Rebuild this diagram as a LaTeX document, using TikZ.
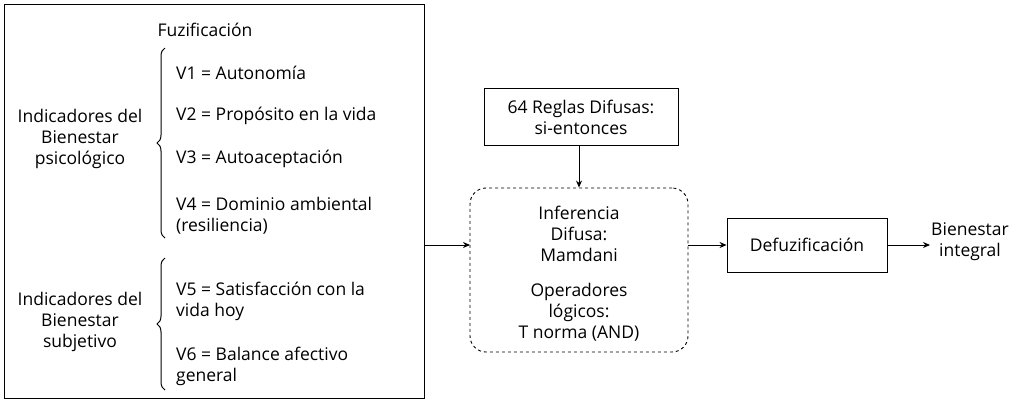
\documentclass[tikz,border=0pt]{standalone}
\usepackage{fontspec}
\setmainfont{Open Sans}
\usetikzlibrary{decorations.pathreplacing,arrows.meta}
\begin{document}
\begin{tikzpicture}[x=1pt,y=-1pt,
  every node/.style={font=\fontsize{17.5}{21}\selectfont,inner sep=0pt},
  box/.style={draw,line width=0.9pt},
  arr/.style={-{Stealth[length=7pt,width=6pt]},line width=0.9pt},
  br/.style={decorate,decoration={brace,amplitude=8pt},line width=1pt}]
\useasboundingbox (0,0) rectangle (1024,402);
\node[box,minimum width=420,minimum height=394] (L) at (214,201) {};
\node (fz) at (205,30) {Fuzificación};
\draw[br] (165,238) -- (165,48) coordinate (b1);
\draw[br] (165,390) -- (165,258) coordinate (b2);
\node[align=center] (ip) at (80,139) {Indicadores del\\Bienestar\\psicológico};
\node[align=center] (is) at (80,322) {Indicadores del\\Bienestar\\subjetivo};
\node[anchor=west] (v1) at (176,73) {V1 = Autonomía};
\node[anchor=west] (v2) at (176,116) {V2 = Propósito en la vida};
\node[anchor=west] (v3) at (176,159) {V3 = Autoaceptación};
\node[anchor=west,align=left] (v4) at (176,216) {V4 = Dominio ambiental\\(resiliencia)};
\node[anchor=west,align=left] (v5) at (176,301) {V5 = Satisfacción con la\\vida hoy};
\node[anchor=west,align=left] (v6) at (176,366) {V6 = Balance afectivo\\general};
\node[box,minimum width=194,minimum height=57,align=center] (R) at (581,117) {64 Reglas Difusas:\\si-entonces};
\node[draw,dashed,line width=0.9pt,rounded corners=16pt,minimum width=218,minimum height=164] (I) at (579,270) {};
\node[align=center] (it) at (579,234) {Inferencia\\Difusa:\\Mamdani};
\node[align=center] (ot) at (579,312) {Operadores\\lógicos:\\T norma (AND)};
\node[box,minimum width=160,minimum height=54] (D) at (807,245) {Defuzificación};
\node[align=center] (B) at (970,242) {Bienestar\\integral};
\coordinate (ie) at (688,245);
\coordinate (iw) at (470,245);
\draw[arr] (L.east |- iw) -- (iw);
\draw[arr] (R.south -| I.north) -- (I.north);
\draw[arr] (ie) -- (D.west);
\draw[arr] (D.east) -- (930,245) coordinate (be);
\end{tikzpicture}
\end{document}
